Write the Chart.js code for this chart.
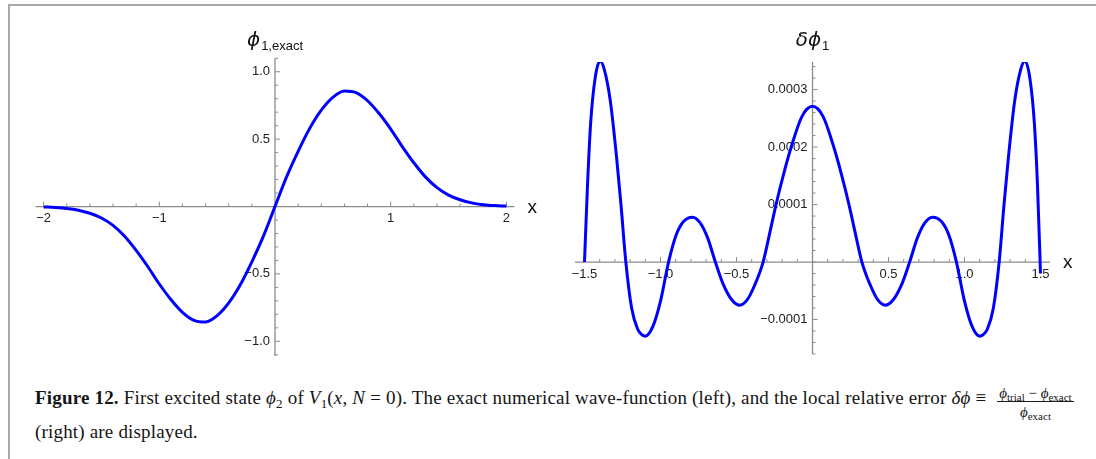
<!DOCTYPE html>
<html>
<head>
<meta charset="utf-8">
<script src="https://cdn.jsdelivr.net/npm/chart.js@4.4.1/dist/chart.umd.min.js"></script>
<style>
  html, body { margin: 0; padding: 0; background: #fff; }
  body { width: 1096px; height: 459px; position: relative; overflow: hidden; }
  .frame { position: absolute; left: 8px; top: 4px; width: 1100px; height: 470px;
           border-top: 2px solid #a8a8a8; border-left: 2px solid #a8a8a8; }
  canvas { position: absolute; top: 0; }
  #phiExact { left: 0; }
  #phiError { left: 548px; }
  .cap { position: absolute; left: 35px; font-family: "Liberation Serif", "Times New Roman", serif;
         font-size: 19px; line-height: 19px; letter-spacing: 0.18px; color: #151515; white-space: nowrap; }
  .cap b { font-weight: bold; }
  .cap sub { font-size: 13px; line-height: 0; vertical-align: -4px; }
  .frac { display: inline-block; vertical-align: -13px; text-align: center; font-size: 15px; margin-left: 6px; letter-spacing: 0; }
  .frac .num { display: block; line-height: 16px; border-bottom: 1px solid #1a1a1a; padding: 0 2px; }
  .frac .den { display: block; line-height: 20px; }
  .frac sub { font-size: 11px; vertical-align: -3px; }
</style>
</head>
<body>
<div class="frame"></div>
<canvas id="phiExact" width="548" height="370"></canvas>
<canvas id="phiError" width="548" height="370"></canvas>

<div class="cap" style="top:385px"><b>Figure 12.</b> First excited state <i>ϕ</i><sub>2</sub> of <i>V</i><sub>1</sub>(<i>x</i>, <i>N</i> = 0). The exact numerical wave-function (left), and the local relative error <i>δϕ</i> ≡ <span class="frac"><span class="num"><i>ϕ</i><sub>trial</sub> − <i>ϕ</i><sub>exact</sub></span><span class="den"><i>ϕ</i><sub>exact</sub></span></span></div>
<div class="cap" style="top:422px">(right) are displayed.</div>

<script>
// ---- exact wave-function phi_1 (left panel) ----
const exactX = [-2.0, -1.9, -1.8, -1.7, -1.6, -1.5, -1.4, -1.3, -1.2, -1.1, -1.0,
                -0.9, -0.8, -0.7, -0.6, -0.5, -0.4, -0.3, -0.2, -0.1, 0.0,
                 0.1,  0.2,  0.3,  0.4,  0.5,  0.6,  0.7,  0.8,  0.9, 1.0,
                 1.1,  1.2,  1.3,  1.4,  1.5,  1.6,  1.7,  1.8,  1.9, 2.0];
const exactY = [-0.003, -0.007, -0.014, -0.027, -0.050, -0.085, -0.140, -0.220, -0.325, -0.445, -0.575,
                -0.690, -0.785, -0.845, -0.857, -0.810, -0.715, -0.580, -0.410, -0.220, 0.000,
                 0.220,  0.410,  0.580,  0.715,  0.810,  0.857,  0.845,  0.785,  0.690, 0.575,
                 0.445,  0.325,  0.220,  0.140,  0.085,  0.050,  0.027,  0.014,  0.007, 0.003];

// ---- local relative error delta phi_1 (right panel) ----
const errorX = [-1.5, -1.48, -1.46, -1.43, -1.397, -1.37, -1.33, -1.29, -1.26, -1.228,
                -1.19, -1.15, -1.12, -1.10, -1.05, -1.0, -0.947, -0.90, -0.85, -0.79,
                -0.74, -0.69, -0.639, -0.59, -0.53, -0.478, -0.43, -0.38, -0.325, -0.28,
                -0.24, -0.19, -0.14, -0.07, 0.0,
                 0.07, 0.14, 0.19, 0.24, 0.28, 0.325, 0.38, 0.43, 0.478, 0.53,
                 0.59, 0.639, 0.69, 0.74, 0.79, 0.85, 0.90, 0.947, 1.0, 1.05,
                 1.10, 1.12, 1.15, 1.19, 1.228, 1.26, 1.29, 1.33, 1.37, 1.397,
                 1.43, 1.46, 1.48, 1.5];
const errorY = [0.0, 0.000135, 0.000240, 0.000320, 0.000350, 0.000335, 0.000280, 0.000185, 0.000100, 0.0,
                -0.000080, -0.000117, -0.000127, -0.000129, -0.000112, -0.000068, 0.0, 0.000045, 0.000070, 0.000078,
                0.0000685, 0.000042, 0.0, -0.000037, -0.000066, -0.000075, -0.000066, -0.000040, 0.0, 0.000052,
                0.000100, 0.000153, 0.000200, 0.000253, 0.000271,
                0.000253, 0.000200, 0.000153, 0.000100, 0.000052, 0.0, -0.000040, -0.000066, -0.000075, -0.000066,
                -0.000037, 0.0, 0.000042, 0.0000685, 0.000078, 0.000070, 0.000045, 0.0, -0.000068, -0.000112,
                -0.000129, -0.000127, -0.000117, -0.000080, 0.0, 0.000100, 0.000185, 0.000280, 0.000335, 0.000350,
                0.000320, 0.000240, 0.000135, -0.000020];

// ---- tick values ----
const exactXTicks = [-2, -1, 1, 2];
const exactYTicks = [-1.0, -0.5, 0.5, 1.0];
const errorXTicks = [-1.5, -1.0, -0.5, 0.5, 1.0, 1.5];
const errorYTicks = [-0.0001, 0.0001, 0.0002, 0.0003];

const minus = s => s.replace('-', '\u2212');
function steps(from, to, step) {
  const out = [];
  const n = Math.round((to - from) / step);
  for (let i = 0; i <= n; i++) out.push(+(from + i * step).toFixed(8));
  return out;
}

// axis decoration per panel (keyed by canvas id)
const axisSpec = {
  phiExact: {
    xMajor: exactXTicks, xLabels: exactXTicks.map(v => minus(String(v))),
    xMinor: steps(-2, 2, 0.2),
    yMajor: exactYTicks, yLabels: exactYTicks.map(v => minus(v.toFixed(1))),
    yMinor: steps(-1.1, 1.1, 0.1),
    title: ['\u03D5', '1,exact']
  },
  phiError: {
    xMajor: errorXTicks, xLabels: errorXTicks.map(v => minus(v.toFixed(1))),
    xMinor: steps(-1.5, 1.5, 0.1),
    yMajor: errorYTicks, yLabels: errorYTicks.map(v => minus(v.toFixed(4))),
    yMinor: steps(-0.00016, 0.00034, 0.00002),
    title: ['\u03B4\u03D5', '1']
  }
};

const AXIS_COLOR = '#8c8c8c';
const LABEL_COLOR = '#222';
const LABEL_FONT = '13px "Liberation Sans", Arial, sans-serif';

const mathAxes = {
  id: 'mathAxes',
  beforeDatasetsDraw(chart) {
    const spec = axisSpec[chart.canvas.id];
    const ctx = chart.ctx, xs = chart.scales.x, ys = chart.scales.y;
    const px0 = xs.getPixelForValue(0), py0 = ys.getPixelForValue(0);
    ctx.save();
    ctx.strokeStyle = AXIS_COLOR;
    ctx.lineWidth = 1.3;
    ctx.beginPath();
    ctx.moveTo(xs.left, py0); ctx.lineTo(xs.right, py0);
    ctx.moveTo(px0, ys.top); ctx.lineTo(px0, ys.bottom);
    ctx.stroke();

    ctx.lineWidth = 1;
    ctx.beginPath();
    spec.xMinor.forEach(v => {
      const p = xs.getPixelForValue(v);
      const len = spec.xMajor.some(m => Math.abs(m - v) < 1e-9) ? 5 : 3;
      ctx.moveTo(p, py0); ctx.lineTo(p, py0 - len);
    });
    spec.yMinor.forEach(v => {
      const p = ys.getPixelForValue(v);
      const len = spec.yMajor.some(m => Math.abs(m - v) < 1e-12) ? 5 : 3;
      ctx.moveTo(px0, p); ctx.lineTo(px0 + len, p);
    });
    ctx.stroke();

    ctx.fillStyle = LABEL_COLOR;
    ctx.font = LABEL_FONT;
    ctx.textBaseline = 'middle';
    ctx.textAlign = 'center';
    spec.xMajor.forEach((v, i) => ctx.fillText(spec.xLabels[i], xs.getPixelForValue(v), py0 + 12));
    ctx.textAlign = 'right';
    spec.yMajor.forEach((v, i) => ctx.fillText(spec.yLabels[i], px0 - 5, ys.getPixelForValue(v)));

    ctx.textAlign = 'left';
    ctx.font = '19px "Liberation Sans", Arial, sans-serif';
    ctx.fillStyle = '#111';
    ctx.fillText('x', xs.right + 13, py0 + 1);
    ctx.restore();
  },
  afterDraw(chart) {
    const spec = axisSpec[chart.canvas.id];
    const ctx = chart.ctx, xs = chart.scales.x;
    const px0 = xs.getPixelForValue(0);
    const [main, sub] = spec.title;
    ctx.save();
    ctx.fillStyle = '#111';
    ctx.textBaseline = 'alphabetic';
    ctx.textAlign = 'left';
    const mainFont = 'italic 20px "DejaVu Sans", "Liberation Sans", sans-serif';
    const subFont = '13px "Liberation Sans", Arial, sans-serif';
    ctx.font = mainFont; const w1 = ctx.measureText(main).width;
    ctx.font = subFont; const w2 = ctx.measureText(sub).width;
    const x0 = px0 - (w1 + w2 + 1) / 2;
    const base = 46;
    ctx.font = mainFont; ctx.fillText(main, x0, base);
    ctx.font = subFont; ctx.fillText(sub, x0 + w1 + 1, base + 4);
    ctx.restore();
  }
};

function panel(id, xs, ys, xRange, yRange, padding) {
  return new Chart(document.getElementById(id), {
    type: 'line',
    data: {
      datasets: [{
        data: xs.map((x, i) => ({ x: x, y: ys[i] })),
        borderColor: '#0000ff',
        borderWidth: 3,
        pointRadius: 0,
        fill: false,
        cubicInterpolationMode: 'monotone'
      }]
    },
    options: {
      responsive: false,
      animation: false,
      events: [],
      layout: { padding: padding },
      plugins: { legend: { display: false }, tooltip: { enabled: false } },
      scales: {
        x: { type: 'linear', min: xRange[0], max: xRange[1], display: false },
        y: { type: 'linear', min: yRange[0], max: yRange[1], display: false }
      }
    },
    plugins: [mathAxes]
  });
}

panel('phiExact', exactX, exactY, [-2.07, 2.07], [-1.11, 1.10],
      { left: 35.5, right: 33.5, top: 58.3, bottom: 13.9 });
panel('phiError', errorX, errorY, [-1.5625, 1.5625], [-0.00016, 0.000348],
      { left: 27, right: 46, top: 62, bottom: 16 });
</script>
</body>
</html>
